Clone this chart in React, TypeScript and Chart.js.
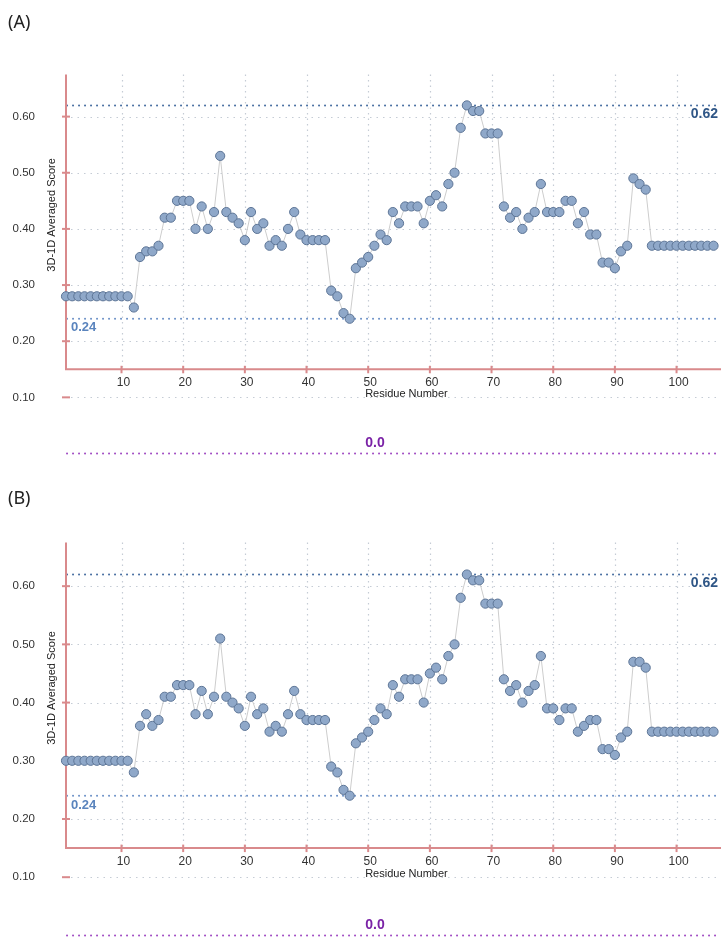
import React, { useEffect, useRef } from "react";
import { Chart, registerables } from "chart.js";

Chart.register(...registerables);

// ---------- data ----------
const residues: number[] = Array.from({ length: 106 }, (_, i) => i + 1);

const scoresA: number[] = [
  0.28, 0.28, 0.28, 0.28, 0.28, 0.28, 0.28, 0.28, 0.28, 0.28,
  0.28, 0.26, 0.35, 0.36, 0.36, 0.37, 0.42, 0.42, 0.45, 0.45,
  0.45, 0.40, 0.44, 0.40, 0.43, 0.53, 0.43, 0.42, 0.41, 0.38,
  0.43, 0.40, 0.41, 0.37, 0.38, 0.37, 0.40, 0.43, 0.39, 0.38,
  0.38, 0.38, 0.38, 0.29, 0.28, 0.25, 0.24, 0.33, 0.34, 0.35,
  0.37, 0.39, 0.38, 0.43, 0.41, 0.44, 0.44, 0.44, 0.41, 0.45,
  0.46, 0.44, 0.48, 0.50, 0.58, 0.62, 0.61, 0.61, 0.57, 0.57,
  0.57, 0.44, 0.42, 0.43, 0.40, 0.42, 0.43, 0.48, 0.43, 0.43,
  0.43, 0.45, 0.45, 0.41, 0.43, 0.39, 0.39, 0.34, 0.34, 0.33,
  0.36, 0.37, 0.49, 0.48, 0.47, 0.37, 0.37, 0.37, 0.37, 0.37,
  0.37, 0.37, 0.37, 0.37, 0.37, 0.37,
];

const scoresB: number[] = [
  0.30, 0.30, 0.30, 0.30, 0.30, 0.30, 0.30, 0.30, 0.30, 0.30,
  0.30, 0.28, 0.36, 0.38, 0.36, 0.37, 0.41, 0.41, 0.43, 0.43,
  0.43, 0.38, 0.42, 0.38, 0.41, 0.51, 0.41, 0.40, 0.39, 0.36,
  0.41, 0.38, 0.39, 0.35, 0.36, 0.35, 0.38, 0.42, 0.38, 0.37,
  0.37, 0.37, 0.37, 0.29, 0.28, 0.25, 0.24, 0.33, 0.34, 0.35,
  0.37, 0.39, 0.38, 0.43, 0.41, 0.44, 0.44, 0.44, 0.40, 0.45,
  0.46, 0.44, 0.48, 0.50, 0.58, 0.62, 0.61, 0.61, 0.57, 0.57,
  0.57, 0.44, 0.42, 0.43, 0.40, 0.42, 0.43, 0.48, 0.39, 0.39,
  0.37, 0.39, 0.39, 0.35, 0.36, 0.37, 0.37, 0.32, 0.32, 0.31,
  0.34, 0.35, 0.47, 0.47, 0.46, 0.35, 0.35, 0.35, 0.35, 0.35,
  0.35, 0.35, 0.35, 0.35, 0.35, 0.35,
];

const xTicks: number[] = [10, 20, 30, 40, 50, 60, 70, 80, 90, 100];
const yTicks: number[] = [0.1, 0.2, 0.3, 0.4, 0.5, 0.6];
const upperThreshold = 0.62;
const lowerThreshold = 0.24;
const zeroLine = 0.0;
const axisBase = 0.15;

const X_MIN = 1;
const X_MAX = 106.3;
const Y_MIN = 0;
const Y_MAX = 0.675;

const SANS = '"Liberation Sans", Arial, Helvetica, sans-serif';
const AXIS_RED = "#d98a8c";

function makeDecor(panelLabel: string, labelY: number) {
  return {
    id: "decor" + panelLabel,
    beforeDatasetsDraw(chart: any) {
      const { ctx, scales } = chart;
      const x = scales.x;
      const y = scales.y;
      const left = x.getPixelForValue(X_MIN);
      const right = chart.width;
      const top = y.getPixelForValue(Y_MAX);
      const base = y.getPixelForValue(axisBase);
      ctx.save();

      // grid lines
      ctx.strokeStyle = "#c5ccd5";
      ctx.lineWidth = 1.2;
      ctx.setLineDash([1.5, 5]);
      yTicks.forEach((v) => {
        const py = Math.round(y.getPixelForValue(v)) + 0.5;
        ctx.beginPath();
        ctx.moveTo(left + 5, py);
        ctx.lineTo(right, py);
        ctx.stroke();
      });
      ctx.setLineDash([1.5, 4]);
      xTicks.forEach((v) => {
        const px = Math.round(x.getPixelForValue(v)) + 0.5;
        ctx.beginPath();
        ctx.moveTo(px, top);
        ctx.lineTo(px, base);
        ctx.stroke();
      });

      // threshold dotted lines
      const dotted = (v: number, color: string) => {
        const py = y.getPixelForValue(v);
        ctx.strokeStyle = color;
        ctx.lineWidth = 2;
        ctx.lineCap = "round";
        ctx.setLineDash([0.1, 5.9]);
        ctx.beginPath();
        ctx.moveTo(left + 1, py);
        ctx.lineTo(right, py);
        ctx.stroke();
      };
      dotted(upperThreshold, "#4a70a2");
      dotted(lowerThreshold, "#6f93c8");
      dotted(zeroLine, "#a24fc4");
      ctx.lineCap = "butt";
      ctx.setLineDash([]);

      // axes
      ctx.strokeStyle = AXIS_RED;
      ctx.lineWidth = 2;
      ctx.beginPath();
      ctx.moveTo(left, top);
      ctx.lineTo(left, base);
      ctx.lineTo(right, base);
      ctx.stroke();
      // y ticks
      yTicks.forEach((v) => {
        const py = y.getPixelForValue(v);
        ctx.beginPath();
        ctx.moveTo(left - 4, py);
        ctx.lineTo(left + 4, py);
        ctx.stroke();
      });
      // x ticks
      xTicks.forEach((v) => {
        const px = x.getPixelForValue(v);
        ctx.beginPath();
        ctx.moveTo(px, base - 3.5);
        ctx.lineTo(px, base + 4);
        ctx.stroke();
      });

      // tick labels
      ctx.fillStyle = "#333333";
      ctx.font = "11.5px " + SANS;
      ctx.textAlign = "right";
      ctx.textBaseline = "middle";
      yTicks.forEach((v) => {
        ctx.fillText(v.toFixed(2), 35, y.getPixelForValue(v));
      });
      ctx.font = "12px " + SANS;
      ctx.textAlign = "center";
      xTicks.forEach((v) => {
        ctx.fillText(String(v), x.getPixelForValue(v) + 2, y.getPixelForValue(0.126));
      });

      // axis titles
      ctx.font = "11px " + SANS;
      ctx.fillStyle = "#222222";
      ctx.fillText("Residue Number", x.getPixelForValue(56.2), y.getPixelForValue(0.106));
      ctx.save();
      ctx.translate(52, y.getPixelForValue(0.425));
      ctx.rotate(-Math.PI / 2);
      ctx.fillText("3D-1D Averaged Score", 0, 0);
      ctx.restore();

      // threshold labels
      ctx.font = "bold 14px " + SANS;
      ctx.fillStyle = "#2f5686";
      ctx.textAlign = "right";
      ctx.fillText(upperThreshold.toFixed(2), right - 3, y.getPixelForValue(0.605));
      ctx.font = "bold 13px " + SANS;
      ctx.fillStyle = "#5a84bd";
      ctx.textAlign = "left";
      ctx.fillText(lowerThreshold.toFixed(2), 71, y.getPixelForValue(0.224));
      ctx.fillStyle = "#7a22a6";
      ctx.textAlign = "center";
      ctx.font = "bold 14px " + SANS;
      ctx.fillText(zeroLine.toFixed(1), x.getPixelForValue(51.1), y.getPixelForValue(0.018));

      // panel label
      ctx.font = '18px "Noto Sans", "Open Sans", sans-serif';
      ctx.fillStyle = "#222222";
      ctx.textAlign = "left";
      ctx.fillText(panelLabel, 8, labelY);

      ctx.restore();
    },
  };
}

function Panel(props: {
  scores: number[];
  label: string;
  top: number;
  height: number;
  padTop: number;
  padBottom: number;
  labelY: number;
}) {
  const ref = useRef<HTMLCanvasElement | null>(null);
  useEffect(() => {
    if (!ref.current) return;
    const chart = new Chart(ref.current, {
      type: "line",
      data: {
        datasets: [
          {
            data: residues.map((r, i) => ({ x: r, y: props.scores[i] })),
            borderColor: "#cdcdcd",
            borderWidth: 1,
            pointRadius: 4.6,
            pointBackgroundColor: "#8fa8c9",
            pointBorderColor: "#5d7596",
            pointBorderWidth: 1,
            tension: 0,
            clip: false as any,
          },
        ],
      },
      options: {
        responsive: false,
        animation: false,
        devicePixelRatio: 1,
        layout: {
          padding: { left: 66, right: 0, top: props.padTop, bottom: props.padBottom },
        },
        plugins: { legend: { display: false }, tooltip: { enabled: false } },
        scales: {
          x: { type: "linear", min: X_MIN, max: X_MAX, display: false },
          y: { type: "linear", min: Y_MIN, max: Y_MAX, display: false },
        },
      },
      plugins: [makeDecor(props.label, props.labelY)],
    });
    return () => chart.destroy();
  }, []);
  return (
    <canvas
      ref={ref}
      width={721}
      height={props.height}
      style={{ position: "absolute", left: 0, top: props.top, width: 721, height: props.height }}
    />
  );
}

export default function App() {
  return (
    <div style={{ position: "absolute", left: 0, top: 0, width: 721, height: 941, background: "#ffffff", overflow: "hidden" }}>
      <Panel scores={scoresA} label="(A)" top={0} height={470} padTop={74.5} padBottom={16.5} labelY={23} />
      <Panel scores={scoresB} label="(B)" top={470} height={471} padTop={72.5} padBottom={0.5} labelY={29} />
    </div>
  );
}
